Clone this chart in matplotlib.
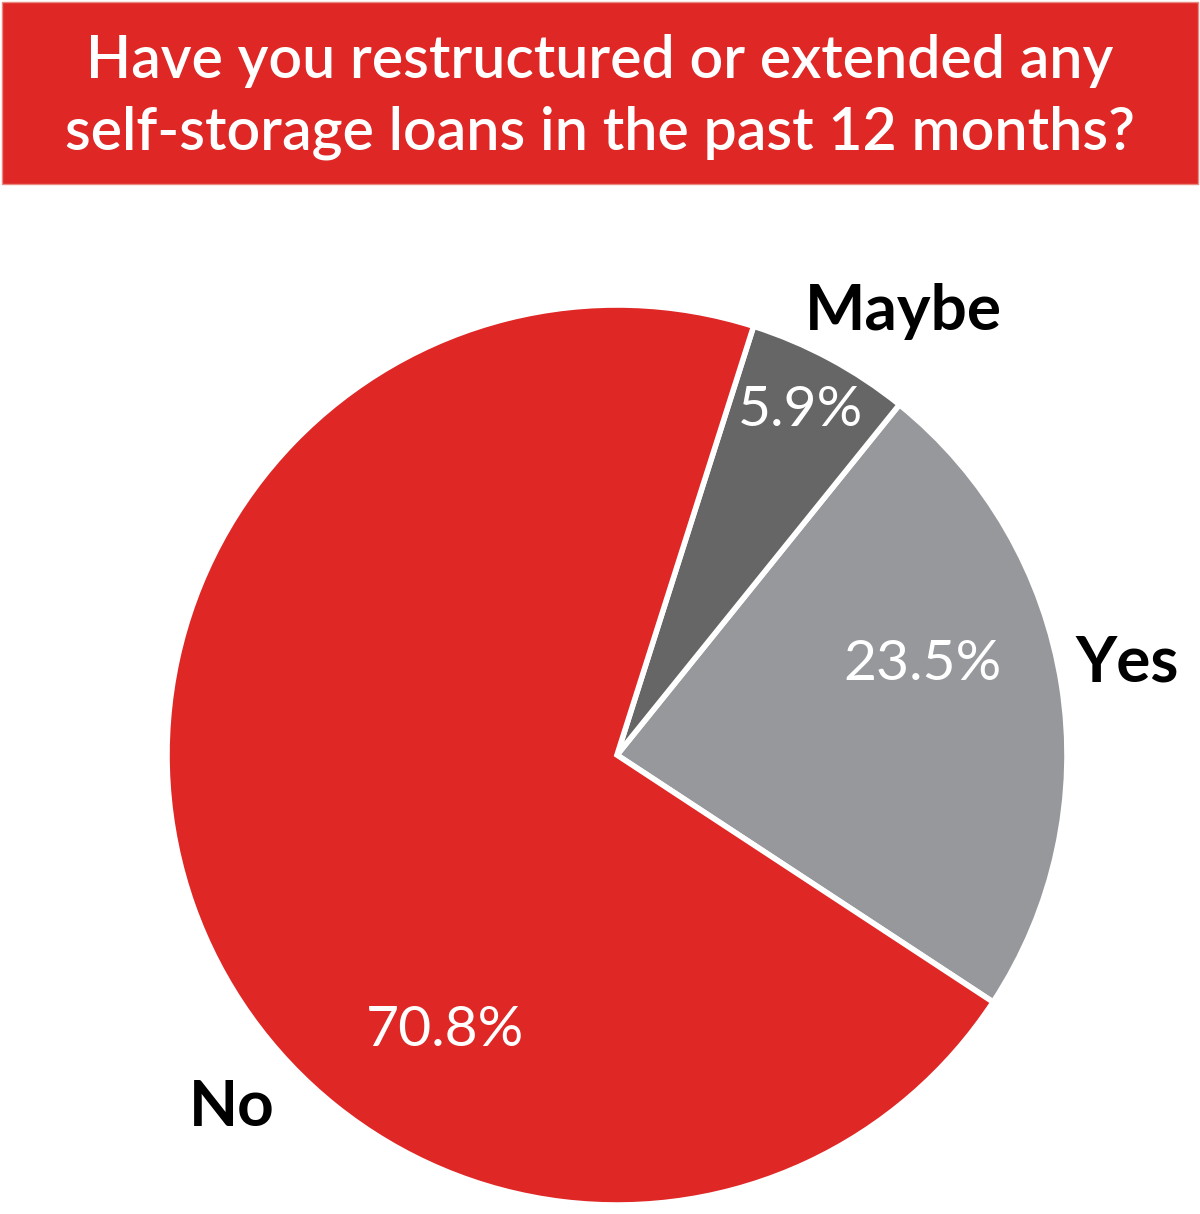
import matplotlib
matplotlib.use("Agg")
import matplotlib.pyplot as plt
from matplotlib.patches import Rectangle

labels = ["Yes", "Maybe", "No"]
values = [23.5, 5.9, 70.8]
pct_labels = ["23.5%", "5.9%", "70.8%"]
colors = ["#97989C", "#666666", "#DF2726"]
title_lines = ["Have you restructured or extended any", "self-storage loans in the past 12 months?"]

W, H = 1200, 1214
fig = plt.figure(figsize=(W / 100, H / 100), dpi=100)
ax = fig.add_axes([0, 0, 1, 1])

FONT = "Lato"

# banner
ax.add_patch(Rectangle((2, H - 184), 1196, 182, facecolor="#DF2726", edgecolor="#E88A80", linewidth=1))
ax.text(600, H - 78, title_lines[0], ha="center", va="baseline", color="white",
        fontsize=42.5, family=FONT, fontweight="semibold")
ax.text(600, H - 150, title_lines[1], ha="center", va="baseline", color="white",
        fontsize=42.5, family=FONT, fontweight="semibold")

cx, cy, r = 617, H - 755, 450
ax.pie(values, colors=colors, startangle=-33.3, counterclock=True,
       center=(cx, cy), radius=r, frame=True,
       wedgeprops=dict(edgecolor="white", linewidth=4))
ax.set_xlim(0, W)
ax.set_ylim(0, H)
ax.set_aspect("equal")
ax.axis("off")

pct_pos = [(922, 665), (800, 410), (445, 1030)]
for t, (x, y) in zip(pct_labels, pct_pos):
    ax.text(x, H - y, t, ha="center", va="center", color="white", fontsize=41, family=FONT)

lab_pos = [(1127, 663), (903, 312), (232, 1108)]
for t, (x, y) in zip(labels, lab_pos):
    ax.text(x, H - y, t, ha="center", va="center", color="black", fontsize=46,
            family=FONT, fontweight="bold")

fig.savefig("out.png", dpi=100)
